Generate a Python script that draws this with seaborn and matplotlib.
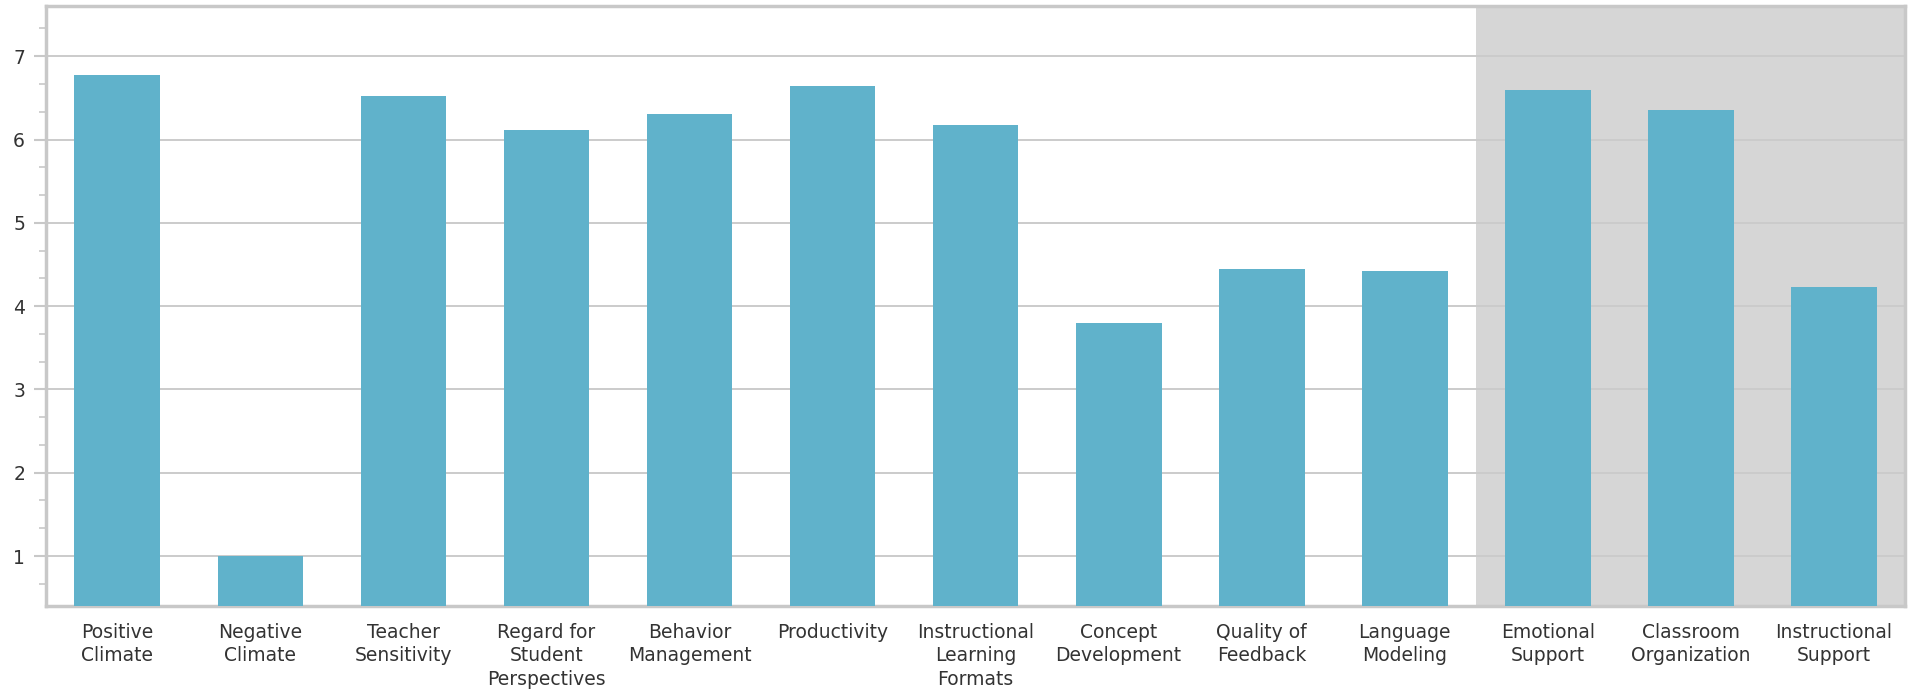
import matplotlib
matplotlib.use("Agg")
import matplotlib.pyplot as plt
from matplotlib.ticker import MultipleLocator, FixedLocator
import seaborn as sns
import pandas as pd

categories = ["Positive Climate", "Negative Climate", "Teacher Sensitivity",
              "Regard for Student Perspectives", "Behavior Management", "Productivity",
              "Instructional Learning Formats", "Concept Development", "Quality of Feedback",
              "Language Modeling", "Emotional Support", "Classroom Organization",
              "Instructional Support"]
tick_labels = ["Positive\nClimate", "Negative\nClimate", "Teacher\nSensitivity",
               "Regard for\nStudent\nPerspectives", "Behavior\nManagement", "Productivity",
               "Instructional\nLearning\nFormats", "Concept\nDevelopment", "Quality of\nFeedback",
               "Language\nModeling", "Emotional\nSupport", "Classroom\nOrganization",
               "Instructional\nSupport"]
scores = [6.77, 1.0, 6.52, 6.11, 6.31, 6.64, 6.17, 3.80, 4.45, 4.42, 6.59, 6.36, 4.23]
y_ticks = [1, 2, 3, 4, 5, 6, 7]

sns.set_theme(style="white")
plt.rcParams["font.family"] = ["DejaVu Sans"]

df = pd.DataFrame({"category": categories, "score": scores})

fig = plt.figure(figsize=(19.11, 6.91), dpi=100)
ax = fig.add_axes([0.024, 0.123, 0.973, 0.868])

ax.axvspan(9.5, 12.5, color="#d6d6d6", zorder=0, lw=0)
sns.barplot(data=df, x="category", y="score", color="#60b2cb", saturation=1,
            width=0.6, ax=ax, zorder=3, linewidth=0, edgecolor="none")

ax.set_xlim(-0.5, 12.5)
ax.set_ylim(0.4, 7.6)
ax.yaxis.set_major_locator(FixedLocator(y_ticks))
ax.yaxis.set_minor_locator(MultipleLocator(1/3))
ax.set_axisbelow(True)
ax.yaxis.grid(True, which="major", color="#cbcbcb", lw=1.4, zorder=1)
ax.xaxis.grid(False)
ax.set_xticks(range(len(categories)))
ax.set_xticklabels(tick_labels, fontsize=13.5, color="#333333", linespacing=1.3)
ax.tick_params(axis="y", which="major", left=True, length=9, width=1.5, color="#c8c8c8",
               labelsize=13.5, labelcolor="#333333", pad=6)
ax.tick_params(axis="y", which="minor", left=True, length=5, width=1.2, color="#c8c8c8")
ax.tick_params(axis="x", bottom=False, pad=6)
for s in ax.spines.values():
    s.set_visible(True)
    s.set_color("#c8c8c8")
    s.set_linewidth(2.5)
ax.set_xlabel("")
ax.set_ylabel("")

fig.savefig("out.png", dpi=100)
